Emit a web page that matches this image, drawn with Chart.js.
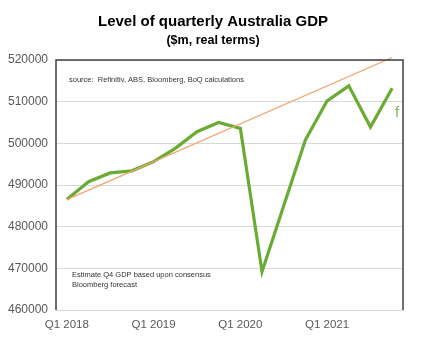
<!DOCTYPE html>
<html>
<head>
<meta charset="utf-8">
<script src="https://cdn.jsdelivr.net/npm/chart.js@4.4.0/dist/chart.umd.min.js"></script>
<style>
  html, body { margin: 0; padding: 0; background: #fff; }
  #wrap { width: 426px; height: 343px; }
</style>
</head>
<body>
<div id="wrap"><canvas id="gdpChart" width="426" height="343"></canvas></div>
<script>
const quarters = [
  'Q1 2018', 'Q2 2018', 'Q3 2018', 'Q4 2018',
  'Q1 2019', 'Q2 2019', 'Q3 2019', 'Q4 2019',
  'Q1 2020', 'Q2 2020', 'Q3 2020', 'Q4 2020',
  'Q1 2021', 'Q2 2021', 'Q3 2021', 'Q4 2021'
];
// real GDP, $m (last quarter is the consensus estimate)
const gdpLevel = [
  486500, 490800, 492900, 493400,
  495600, 498800, 502800, 505000,
  503600, 469200, 485000, 500800,
  510200, 513800, 503900, 513200
];
// straight pre-covid trend, only the two ends are set
const trendLine = [
  486500, null, null, null,
  null, null, null, null,
  null, null, null, null,
  null, null, null, 520600
];
const yMin = 460000;
const yMax = 520000;
const yStep = 10000;

const sans = "'Liberation Sans', Arial, sans-serif";

// titles centred on the page, frame on top/left/right, notes inside the plot
const plotNotes = {
  id: 'plotNotes',
  afterDraw(chart) {
    const { ctx, chartArea, width } = chart;
    ctx.save();
    ctx.fillStyle = '#000';
    ctx.textAlign = 'center';
    ctx.textBaseline = 'middle';
    ctx.font = 'bold 15px ' + sans;
    ctx.fillText('Level of quarterly Australia GDP', width / 2, 22);
    ctx.font = 'bold 12.5px ' + sans;
    ctx.fillText('($m, real terms)', width / 2, 41);

    ctx.strokeStyle = '#404040';
    ctx.lineWidth = 1.5;
    ctx.beginPath();
    ctx.moveTo(chartArea.left, chartArea.bottom);
    ctx.lineTo(chartArea.left, chartArea.top);
    ctx.lineTo(chartArea.right, chartArea.top);
    ctx.lineTo(chartArea.right, chartArea.bottom);
    ctx.stroke();

    ctx.textAlign = 'left';
    ctx.fillStyle = '#333';
    ctx.font = '7.5px ' + sans;
    ctx.fillText('source:  Refinitiv, ABS, Bloomberg, BoQ calculations', chartArea.left + 13, chartArea.top + 20);
    ctx.fillText('Estimate Q4 GDP based upon consensus', chartArea.left + 16, 275);
    ctx.fillText('Bloomberg forecast', chartArea.left + 16, 285);

    ctx.fillStyle = '#7cb84a';
    ctx.font = '15px ' + sans;
    ctx.fillText('f', chartArea.right - 8, 113);
    ctx.restore();
  }
};

new Chart(document.getElementById('gdpChart'), {
  type: 'line',
  data: {
    labels: quarters,
    datasets: [
      {
        label: 'Trend',
        data: trendLine,
        borderColor: '#f4a36c',
        borderWidth: 1.3,
        pointRadius: 0,
        spanGaps: true,
        clip: 6
      },
      {
        label: 'GDP',
        data: gdpLevel,
        borderColor: '#6aab34',
        borderWidth: 3.2,
        pointRadius: 0,
        tension: 0,
        borderJoinStyle: 'miter'
      }
    ]
  },
  options: {
    responsive: false,
    devicePixelRatio: 1,
    animation: false,
    layout: { padding: { left: 0, right: 23, top: 60, bottom: 0 } },
    plugins: {
      legend: { display: false },
      tooltip: { enabled: false },
      title: { display: false }
    },
    scales: {
      x: {
        offset: true,
        afterFit: (scale) => { scale.height = 33; },
        grid: { display: false, drawTicks: false },
        border: { color: '#d9d9d9', width: 1 },
        ticks: {
          autoSkip: false,
          maxRotation: 0,
          padding: 8,
          color: '#595959',
          font: { family: sans, size: 11.5 },
          callback: (v, i) => (i % 4 === 0 ? quarters[i] : '')
        }
      },
      y: {
        min: yMin,
        max: yMax,
        afterFit: (scale) => { scale.width = 56; },
        grid: { color: '#d9d9d9', drawTicks: false },
        border: { display: false },
        ticks: {
          stepSize: yStep,
          padding: 8,
          color: '#595959',
          font: { family: sans, size: 12 },
          callback: (v) => String(v)
        }
      }
    }
  },
  plugins: [plotNotes]
});
</script>
</body>
</html>
